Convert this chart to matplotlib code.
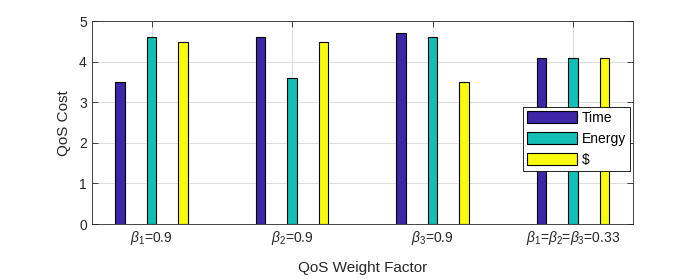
import numpy as np
import matplotlib
matplotlib.use('Agg')
import matplotlib.pyplot as plt

plt.rcParams['font.family'] = ['Liberation Sans', 'DejaVu Sans']
plt.rcParams['mathtext.fontset'] = 'custom'
plt.rcParams['mathtext.rm'] = 'Liberation Sans'
plt.rcParams['mathtext.it'] = 'Liberation Sans:italic'

groups = [r'$\beta_1$=0.9', r'$\beta_2$=0.9', r'$\beta_3$=0.9',
          r'$\beta_1$=$\beta_2$=$\beta_3$=0.33']
time_cost = [3.5, 4.6, 4.7, 4.1]
energy_cost = [4.6, 3.6, 4.6, 4.1]
money_cost = [4.5, 4.5, 3.5, 4.1]
series = ['Time', 'Energy', '$']
colors = ['#3E26A8', '#13BEB7', '#F9FB0E']

fig = plt.figure(figsize=(7, 2.8), dpi=100)
ax = fig.add_axes([0.131, 0.2, 0.7733, 0.724])

x = np.arange(1, len(groups) + 1)
off = 0.224
w = 0.068
for i, (vals, lab, c) in enumerate(zip([time_cost, energy_cost, money_cost], series, colors)):
    ax.bar(x + (i - 1) * off, vals, w, color=c, edgecolor='black', linewidth=0.8, label=lab, zorder=3)

ax.set_xlim(0.573, 4.427)
ax.set_ylim(0, 5)
ax.set_xticks(x)
ax.set_xticklabels(groups, fontsize=10, color='#262626')
ax.set_yticks(range(6))
ax.tick_params(axis='y', labelsize=10, labelcolor='#262626')
ax.tick_params(direction='in', top=True, right=True, length=4, color='#262626', width=0.6)
ax.grid(True, color='#dcdcdc', linewidth=0.7, zorder=0)
ax.set_axisbelow(True)
for s in ax.spines.values():
    s.set_color('#262626')
    s.set_linewidth(0.6)

ax.set_xlabel('QoS Weight Factor', fontsize=11, color='#262626', labelpad=10)
ax.set_ylabel('QoS Cost', fontsize=11, color='#262626', labelpad=6)

leg = ax.legend(loc='upper left', bbox_to_anchor=(0.797, 0.577), fontsize=10,
                fancybox=False, framealpha=1, edgecolor='black',
                handlelength=3.6, handleheight=0.95, handletextpad=0.3,
                labelspacing=0.5, borderpad=0.3, borderaxespad=0)
leg.get_frame().set_linewidth(0.6)

fig.savefig('out.png', dpi=100)
